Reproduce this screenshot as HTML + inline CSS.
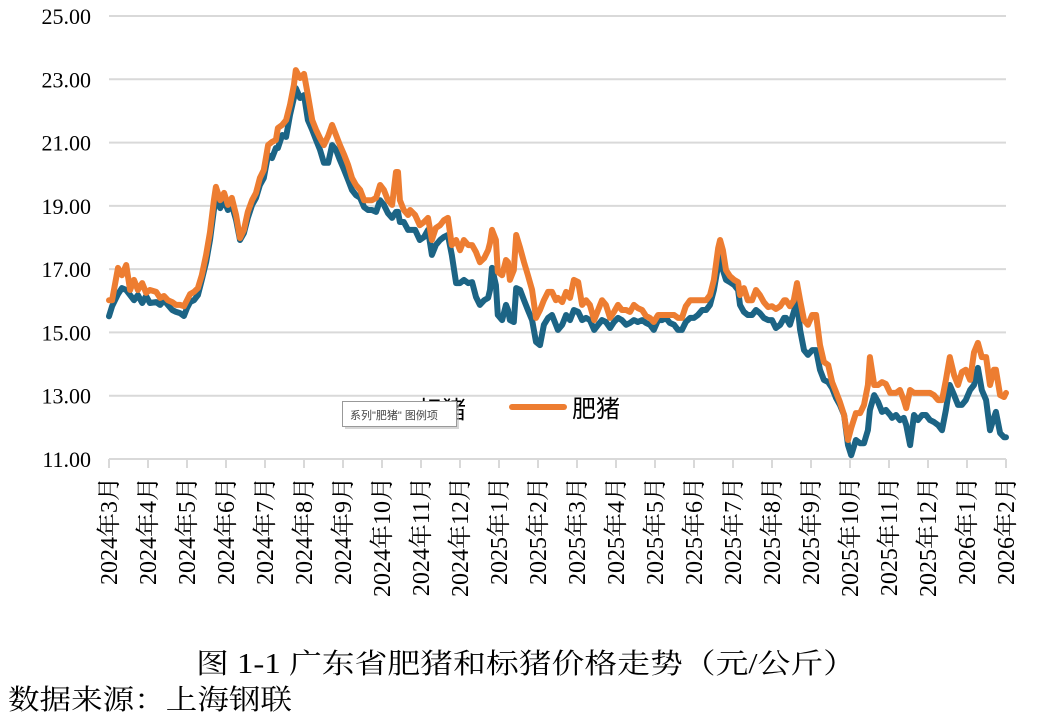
<!DOCTYPE html>
<html><head><meta charset="utf-8"><style>
html,body{margin:0;padding:0;background:#fff;width:1044px;height:725px;overflow:hidden}
svg{display:block}
.serif{font-family:"Liberation Serif","Noto Serif CJK SC",serif}
.cjk{font-family:"Liberation Sans","Noto Sans CJK SC",sans-serif}
</style></head><body>
<svg id="chart" width="1044" height="725" xmlns="http://www.w3.org/2000/svg"></svg>
<script>
// time in months since 2024-03
const tMonths=[0,0.08,0.23,0.33,0.44,0.54,0.64,0.74,0.85,0.95,1.05,1.21,1.31,1.41,1.51,1.62,1.72,1.82,1.92,2.00,2.08,2.18,2.28,2.38,2.49,2.59,2.69,2.74,2.85,2.95,3.05,3.15,3.26,3.36,3.46,3.56,3.67,3.77,3.87,3.97,4.08,4.18,4.28,4.33,4.44,4.54,4.64,4.74,4.79,4.90,5.00,5.10,5.21,5.31,5.41,5.51,5.62,5.72,5.82,5.92,6.03,6.13,6.23,6.33,6.44,6.54,6.64,6.74,6.85,6.95,7.05,7.15,7.26,7.36,7.41,7.46,7.56,7.67,7.72,7.85,7.97,8.08,8.18,8.28,8.38,8.49,8.59,8.69,8.79,8.90,9.00,9.10,9.21,9.31,9.41,9.51,9.62,9.72,9.77,9.82,9.92,9.97,10.08,10.18,10.23,10.28,10.38,10.44,10.54,10.64,10.74,10.85,10.95,11.05,11.15,11.26,11.36,11.46,11.51,11.62,11.72,11.82,11.92,12.03,12.13,12.23,12.33,12.44,12.54,12.64,12.74,12.85,12.95,13.05,13.15,13.26,13.36,13.46,13.56,13.67,13.77,13.87,13.97,14.08,14.18,14.28,14.38,14.49,14.59,14.69,14.79,14.90,15.00,15.10,15.21,15.31,15.41,15.51,15.62,15.67,15.74,15.82,15.92,16.03,16.13,16.18,16.28,16.38,16.49,16.59,16.69,16.79,16.90,17.00,17.10,17.21,17.31,17.36,17.46,17.56,17.64,17.72,17.82,17.92,18.03,18.13,18.23,18.33,18.44,18.54,18.64,18.74,18.85,18.95,19.03,19.15,19.26,19.36,19.46,19.51,19.62,19.72,19.82,19.92,20.03,20.08,20.18,20.28,20.38,20.44,20.54,20.64,20.74,20.85,20.95,21.05,21.15,21.26,21.36,21.46,21.56,21.67,21.77,21.87,21.97,22.08,22.18,22.28,22.38,22.49,22.59,22.69,22.74,22.85,22.95,23.00];
const feiZhu=[16.02,16.02,17.04,16.81,17.13,16.34,16.66,16.34,16.56,16.25,16.34,16.28,16.09,16.15,16.02,15.96,15.87,15.87,15.83,16.02,16.21,16.28,16.40,16.81,17.45,18.17,19.18,19.60,19.18,19.41,19.03,19.25,18.71,17.98,18.24,18.81,19.18,19.41,19.88,20.13,20.92,21.02,21.08,21.46,21.56,21.71,22.19,22.82,23.29,23.04,23.17,22.50,21.71,21.40,21.14,20.92,21.21,21.56,21.24,20.92,20.61,20.29,19.88,19.66,19.50,19.18,19.18,19.18,19.25,19.66,19.50,19.18,19.03,20.07,20.07,19.18,18.87,18.71,18.87,18.71,18.39,18.49,18.62,17.92,18.30,18.39,18.55,18.62,17.76,17.92,17.60,17.92,17.76,17.76,17.54,17.22,17.35,17.60,17.83,18.24,17.92,16.91,16.81,17.29,17.22,16.66,16.97,18.08,17.67,17.22,16.81,16.34,15.46,15.71,16.02,16.28,16.28,16.02,16.09,15.96,16.28,16.09,16.66,16.59,15.87,16.02,15.87,15.39,15.71,16.02,15.87,15.46,15.65,15.87,15.71,15.71,15.65,15.87,15.77,15.71,15.52,15.46,15.33,15.55,15.55,15.55,15.55,15.55,15.46,15.46,15.83,16.02,16.02,16.02,16.02,16.02,16.18,16.66,17.67,17.92,17.60,16.97,16.78,16.66,16.59,16.18,16.40,16.02,16.02,16.34,16.18,15.96,15.80,15.83,15.74,15.83,16.02,16.02,15.83,16.02,16.56,16.02,15.39,15.24,15.55,15.55,14.60,14.07,13.97,13.43,13.12,12.80,12.39,11.60,11.98,12.45,12.45,12.71,13.34,14.22,13.34,13.34,13.43,13.37,13.09,13.09,13.09,13.18,12.86,12.61,13.18,13.09,13.09,13.09,13.09,13.09,13.02,12.86,12.86,13.50,14.22,13.65,13.34,13.75,13.82,13.50,14.37,14.67,14.22,14.22,13.34,13.82,13.82,13.02,12.96,13.09];
const biaoZhu=[15.51,15.83,16.21,16.40,16.34,16.18,16.02,16.18,15.93,16.15,15.93,15.96,15.87,16.02,15.87,15.71,15.65,15.61,15.52,15.77,15.96,16.02,16.18,16.66,17.22,17.92,18.87,19.34,18.93,19.18,18.87,19.03,18.55,17.92,18.14,18.62,19.03,19.25,19.66,19.88,20.61,20.51,20.83,20.83,21.24,21.18,21.87,22.41,22.72,22.41,22.50,21.71,21.40,21.08,20.77,20.36,20.36,20.92,20.77,20.45,20.13,19.82,19.50,19.34,19.25,18.96,18.87,18.87,18.81,19.18,19.03,18.77,18.62,18.81,18.81,18.49,18.49,18.24,18.24,18.24,17.92,18.02,18.24,17.45,17.76,17.92,18.02,18.08,17.45,16.56,16.56,16.66,16.56,16.59,16.12,15.87,16.02,16.09,16.34,17.04,16.50,15.55,15.39,15.87,15.71,15.39,15.33,16.40,16.34,16.02,15.71,15.39,14.70,14.60,15.24,15.46,15.55,15.24,15.08,15.24,15.55,15.39,15.71,15.65,15.39,15.46,15.39,15.08,15.24,15.39,15.33,15.14,15.33,15.46,15.39,15.24,15.30,15.39,15.33,15.39,15.30,15.24,15.08,15.39,15.39,15.46,15.30,15.24,15.08,15.08,15.33,15.46,15.46,15.55,15.71,15.71,15.87,16.34,17.13,17.45,16.97,16.66,16.59,16.50,16.34,15.87,15.65,15.55,15.55,15.71,15.61,15.46,15.39,15.39,15.14,15.24,15.46,15.46,15.24,15.65,16.02,15.08,14.44,14.29,14.44,14.44,13.82,13.50,13.43,13.24,12.93,12.71,12.39,11.44,11.12,11.60,11.50,11.50,11.91,12.55,13.02,12.80,12.49,12.55,12.39,12.30,12.39,12.23,12.30,12.07,11.44,12.39,12.23,12.39,12.39,12.23,12.17,12.07,11.91,12.55,13.34,13.02,12.71,12.71,12.86,13.18,13.34,13.88,13.18,12.86,11.91,12.30,12.49,11.82,11.69,11.69];
const yTicks=[25,23,21,19,17,15,13,11];
const xLabels=["2024年3月","2024年4月","2024年5月","2024年6月","2024年7月","2024年8月","2024年9月","2024年10月","2024年11月","2024年12月","2025年1月","2025年2月","2025年3月","2025年4月","2025年5月","2025年6月","2025年7月","2025年8月","2025年9月","2025年10月","2025年11月","2025年12月","2026年1月","2026年2月"];

const NS="http://www.w3.org/2000/svg";
const svg=document.getElementById('chart');
const X0=109,X1=1006,Y0=459,Y1=16,VMIN=11,VMAX=25;
const xs=m=>X0+(X1-X0)*m/(xLabels.length-1);
const ys=v=>Y0-(Y0-Y1)*(v-VMIN)/(VMAX-VMIN);
function mk(tag,attrs,parent){const e=document.createElementNS(NS,tag);for(const k in attrs)e.setAttribute(k,attrs[k]);(parent||svg).appendChild(e);return e;}

yTicks.forEach(v=>{
  const g=mk('line',{x1:X0,x2:X1,y1:ys(v),y2:ys(v),stroke:'#d9d9d9','stroke-width':2});
  
  
  const t=mk('text',{x:91,y:ys(v)+8,'text-anchor':'end','font-size':22,fill:'#000',class:'serif'});
  t.textContent=v.toFixed(2);
  
  
});
xLabels.forEach((lab,i)=>{
  const x=xs(i);
  const tk=mk('line',{x1:x,x2:x,y1:Y0,y2:Y0+9,stroke:'#d9d9d9','stroke-width':2});
  
  
  const t=mk('text',{x:0,y:0,transform:`translate(${x+8},477) rotate(-90)`,'text-anchor':'end','font-size':24,fill:'#000',class:'serif'});
  t.textContent=lab;
  
  
});

function series(vals,color,name){
  const n=Math.min(vals.length,tMonths.length);
  let d='';
  for(let i=0;i<n;i++)d+=(i?'L':'M')+xs(tMonths[i]).toFixed(1)+' '+ys(vals[i]).toFixed(1);
  const p=mk('path',{d:d,fill:'none',stroke:color,'stroke-width':6,'stroke-linejoin':'round','stroke-linecap':'round'});
  
  
}
series(biaoZhu,'#1c6485','series-biaozhu-line');
series(feiZhu,'#ed7d31','series-feizhu-line');

// legend
const l1=mk('text',{x:418,y:418,'font-size':24,fill:'#000',class:'cjk'});l1.textContent='标猪';


const ll=mk('line',{x1:512,x2:564,y1:407,y2:407,stroke:'#ed7d31','stroke-width':6,'stroke-linecap':'round'});


const l2=mk('text',{x:572,y:417,'font-size':24,fill:'#000',class:'cjk'});l2.textContent='肥猪';



// tooltip
const tb=mk('rect',{x:345,y:404,width:114,height:25,fill:'#bbb',opacity:0.6});


const tr=mk('rect',{x:342.5,y:401.5,width:114,height:25,fill:'#fff',stroke:'#999','stroke-width':1});


const tt=mk('text',{x:350,y:419,'font-size':11,fill:'#444',class:'cjk'});tt.textContent='系列"肥猪" 图例项';



// title and source
const ti=mk('text',{x:196,y:673,'font-size':28,fill:'#000',class:'serif',textLength:660,lengthAdjust:'spacingAndGlyphs'});
ti.textContent='图 1-1 广东省肥猪和标猪价格走势（元/公斤）';


const so=mk('text',{x:8,y:709,'font-size':28,fill:'#000',class:'serif',textLength:284,lengthAdjust:'spacingAndGlyphs'});
so.textContent='数据来源：上海钢联';


</script>
</body></html>
